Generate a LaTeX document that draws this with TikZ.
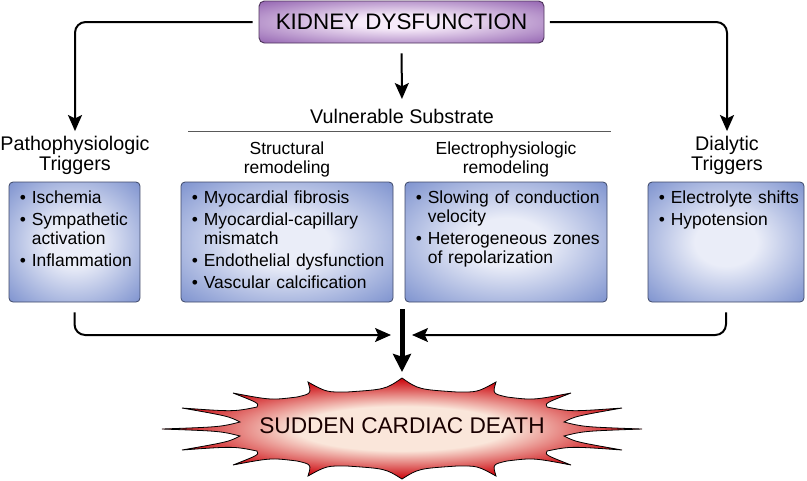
\documentclass[tikz,border=0pt]{standalone}
\usepackage{fontspec}
\setmainfont{Liberation Sans}
\usetikzlibrary{arrows.meta}
\usetikzlibrary{positioning}

\definecolor{panelin}{RGB}{234,237,248}
\definecolor{panelout}{RGB}{124,145,206}
\definecolor{panelline}{RGB}{62,72,104}
\definecolor{kidin}{RGB}{246,234,249}
\definecolor{kidout}{RGB}{146,98,176}
\definecolor{kidline}{RGB}{78,52,92}
\definecolor{burstin}{RGB}{250,230,218}
\definecolor{burstout}{RGB}{206,16,22}

\pgfdeclareradialshading{panelshade}{\pgfpointorigin}{color(0bp)=(panelin); color(10bp)=(panelin); color(36bp)=(panelout); color(50bp)=(panelout)}
\pgfdeclareradialshading{kidshade}{\pgfpointorigin}{color(0bp)=(kidin); color(8bp)=(kidin); color(36bp)=(kidout); color(50bp)=(kidout)}
\pgfdeclareradialshading{burstshade}{\pgfpointorigin}{color(0bp)=(burstin); color(11bp)=(burstin); color(24bp)=(burstout); color(50bp)=(burstout)}

\newcommand{\bul}[1]{\setbox0\hbox{\textbullet\ }\hangindent=\wd0\hangafter=1\noindent\box0\relax #1\par\vspace{2.25pt}}

\begin{document}
\begin{tikzpicture}[x=0.75pt,y=-0.75pt,
  conn/.style={line width=1.5pt, rounded corners=8pt, -{Stealth[length=12pt,width=10.5pt,inset=2.5pt]}},
  bigarrow/.style={line width=3.75pt, -{Stealth[length=13.5pt,width=13.5pt,inset=2pt]}},
  head/.style={font=\fontsize{14.8}{15}\selectfont, align=center},
  sub/.style={font=\fontsize{13.1}{14.25}\selectfont, align=center},
  panel/.style={draw=panelline, line width=0.6pt, rounded corners=3pt, shading=panelshade, minimum height=90pt},
  items/.style={font=\fontsize{13.1}{14.25}\selectfont, align=left, inner sep=0pt, anchor=north west},
  kidbox/.style={draw=kidline, line width=0.7pt, rounded corners=4pt, shading=kidshade, minimum width=213.75pt, minimum height=31.5pt, font=\fontsize{16.8}{18}\selectfont},
  rule/.style={draw=black!65, line width=0.75pt}]
\useasboundingbox (0,0) rectangle (807,480);

% top box
\node[kidbox] (kidney) at (401.5,22) {KIDNEY DYSFUNCTION};

% headings
\node[head, anchor=base] (vuln) at (402,123) {Vulnerable Substrate};
\draw[rule] (188,131) -- (611,131);
\node[head] (phead) at (75,155) {Pathophysiologic\\Triggers};
\node[head] (dhead) at (727,155) {Dialytic\\Triggers};
\node[sub] (shead) at (287,159) {Structural\\remodeling};
\node[sub] (ehead) at (506,159) {Electrophysiologic\\remodeling};

% panels
\node[panel, minimum width=98.25pt] (pbox) at (74.5,242) {};
\node[panel, minimum width=159pt] (sbox) at (287,242) {};
\node[panel, minimum width=151.5pt] (ebox) at (506,242) {};
\node[panel, minimum width=117pt] (dbox) at (726,242) {};

\node[items, text width=88pt] (plist) at ([shift={(11,9)}]pbox.north west)
  {\bul{Ischemia}\bul{Sympathetic\newline activation}\bul{Inflammation}};
\node[items, text width=149pt] (slist) at ([shift={(11,9)}]sbox.north west)
  {\bul{Myocardial fibrosis}\bul{Myocardial-capillary\newline mismatch}\bul{Endothelial dysfunction}\bul{Vascular calcification}};
\node[items, text width=142pt] (elist) at ([shift={(11,9)}]ebox.north west)
  {\bul{Slowing of conduction\newline velocity}\bul{Heterogeneous zones\newline of repolarization}};
\node[items, text width=108pt] (dlist) at ([shift={(11,9)}]dbox.north west)
  {\bul{Electrolyte shifts}\bul{Hypotension}};

% arrows from the top
\draw[conn, shorten <=4.5pt] (kidney.west) -| (phead.north);
\draw[conn, shorten <=4pt] (kidney.east) -| (dhead.north);
\draw[conn, shorten <=7.5pt, shorten >=3.75pt] (kidney.south) -- (vuln.north);

% arrows to the bottom
\coordinate (mergeL) at (391,335);
\coordinate (mergeR) at (412,335);
\coordinate (hub) at (402,309);
\coordinate (burst) at (402,372);
\draw[conn, shorten <=7.5pt] (pbox.south) |- (mergeL);
\draw[conn, shorten <=7.5pt] (dbox.south) |- (mergeR);
\draw[bigarrow] (hub) -- (burst);

% starburst
\shadedraw[shading=burstshade, draw=black, line width=0.6pt]
  (240,436) .. controls (220.6,431.1) .. (162,429) .. controls (220.6,426.9) .. (240,422)
  .. controls (228.6,416.2) .. (182,408) .. controls (233.7,411.7) .. (257,407)
  .. controls (259,403.2) .. (233,393) .. controls (271,400.2) .. (297,397)
  .. controls (311.5,393.7) .. (308,382) .. controls (326.5,392.2) .. (347,392)
  .. controls (385.5,389.4) .. (402,378) .. controls (418.5,389.4) .. (457,392)
  .. controls (477.5,392.2) .. (496,382) .. controls (492.5,393.7) .. (507,397)
  .. controls (533,400.2) .. (571,393) .. controls (545,403.2) .. (547,407)
  .. controls (570.3,411.7) .. (622,408) .. controls (575.4,416.2) .. (564,422)
  .. controls (583.4,426.9) .. (642,429) .. controls (583.4,431.1) .. (564,436)
  .. controls (575.4,441.8) .. (622,450) .. controls (570.3,446.3) .. (547,451)
  .. controls (545,454.8) .. (571,465) .. controls (533,457.8) .. (507,461)
  .. controls (492.5,464.3) .. (496,476) .. controls (477.5,465.8) .. (457,466)
  .. controls (418.5,468.6) .. (402,479) .. controls (385.5,468.6) .. (347,466)
  .. controls (326.5,465.8) .. (308,476) .. controls (311.5,464.3) .. (297,461)
  .. controls (271,457.8) .. (233,465) .. controls (259,454.8) .. (257,451)
  .. controls (233.7,446.3) .. (182,450) .. controls (228.6,441.8) .. cycle;
\node[font=\fontsize{17}{19}\selectfont, text=black!90!red] (scd) at (402,426) {SUDDEN CARDIAC DEATH};

\end{tikzpicture}
\end{document}
